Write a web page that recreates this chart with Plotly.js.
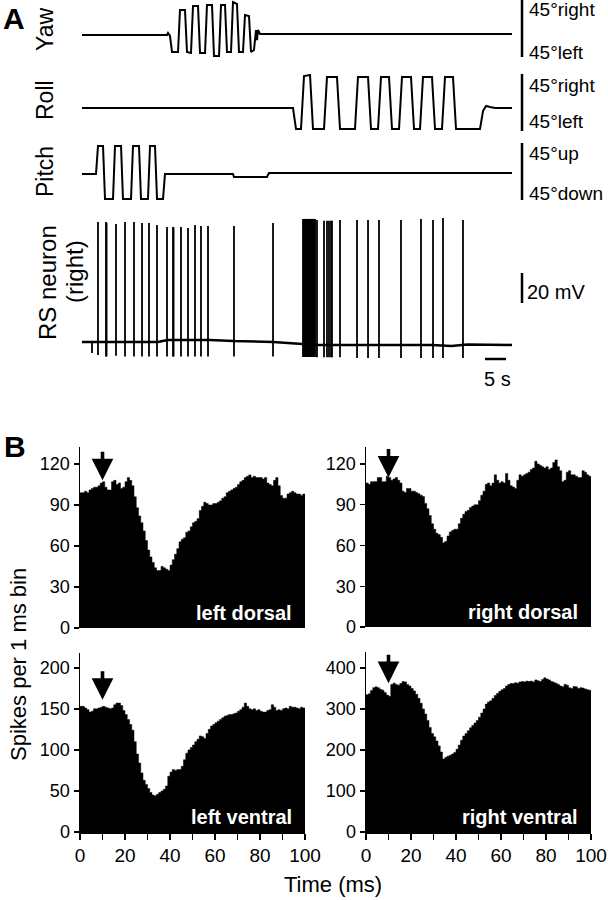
<!DOCTYPE html>
<html><head><meta charset="utf-8">
<script src="https://cdn.plot.ly/plotly-3.0.1.min.js"></script>
<style>html,body{margin:0;padding:0;background:#fff}</style>
</head><body><div id="chart" style="width:608px;height:900px"></div>
<script>
// ---------- Panel A: head position traces (time in s, angle in deg) ----------
const yawT   = [0,20.24,20.48,20.95,21.43,22.86,23.33,24.52,25.0,25.95,26.43,27.62,28.10,29.29,29.76,30.95,31.43,32.62,33.10,34.05,34.52,35.48,35.95,36.90,37.38,38.33,38.81,39.76,40.24,40.95,41.43,41.67,41.90,42.38,102.38];
const yawDeg = [-10.3,-10.3,-7.1,-11.8,-37.1,-37.1,29.2,29.2,-37.1,-38.7,35.5,35.5,-38.7,-38.7,37.1,37.1,-43.4,-43.4,37.1,37.1,-37.1,-37.1,41.8,38.7,-37.1,-37.1,21.3,19.7,-37.1,-34,-2.4,-18.2,-2.4,-8.7,-8.7];
const rollT   = [0,50.24,50.95,52.14,52.86,54.29,55.0,57.62,58.33,60.71,61.43,65.0,65.71,68.1,68.81,70.48,71.19,73.1,73.81,75.48,76.19,78.33,79.05,80.48,81.19,83.33,84.05,85.71,86.43,88.33,89.05,94.76,95.48,96.19,97.14,98.33,102.38];
const rollDeg = [-8.7,-8.7,-41.8,-41.8,41.8,43.4,-41.8,-41.8,40.3,40.3,-41.8,-41.8,40.3,40.3,-41.8,-41.8,40.3,40.3,-41.8,-41.8,40.3,40.3,-41.8,-41.8,40.3,40.3,-41.8,-41.8,40.3,40.3,-41.8,-41.8,-13.4,-5.5,-7.1,-8.7,-8.7];
const pitchT   = [0,3.33,3.81,5.0,5.48,7.38,7.86,9.29,9.76,11.67,12.14,13.57,14.05,15.71,16.19,17.38,17.86,19.29,19.76,35.95,36.19,44.05,44.52,102.38];
const pitchDeg = [-4,-4,40.3,40.3,-43.4,-43.4,40.3,40.3,-43.4,-43.4,40.3,40.3,-43.4,-43.4,40.3,40.3,-43.4,-43.4,-4,-4,-8.7,-8.7,-2.4,-2.4];

// ---------- RS neuron (time in s, membrane potential in mV) ----------
const vBaseT = [0,18.1,19.5,20.5,30.5,36,45.5,52.4,56,83.3,88,91.7,102.38];
const vBase  = [-59.3,-59.3,-58.5,-58,-58,-58.7,-59.3,-60.5,-61.3,-61.3,-62,-61,-61.3];
const spikeT = [2.38,3.81,5.71,5.85,8.10,10.24,12.38,14.29,15.95,17.86,20.24,21.67,21.8,23.57,25.24,26.90,28.33,30.0,36.19,45.48,
  52.62,52.78,52.9,53.05,53.2,53.33,53.5,53.62,53.78,53.9,54.05,54.2,54.33,54.5,54.62,54.78,54.9,55.05,55.2,55.33,55.48,
  55.95,57.62,58.33,58.81,59.29,59.52,61.43,65.48,68.10,70.71,75.95,80.71,83.57,85.95,90.71];
const spikePeak = [-59,20.7,20.7,20.0,19.3,20.7,20.7,20.0,20.0,18.7,17.3,17.3,17.0,17.3,16.7,18.7,18.0,18.0,18.0,20.0,
  22.7,22.7,22.7,22.7,22.7,22.7,22.7,22.7,22.7,22.7,22.7,22.7,22.7,22.7,22.7,22.7,22.7,22.7,22.7,22.7,22.7,
  22.0,21.5,21.5,21.5,21.5,21.5,22.0,22.0,22.0,22.0,22.0,22.7,22.0,23.3,22.0];
const spikeTrough = [-66.7,-68,-69,-69,-68.5,-69,-69,-69,-69,-69,-69,-69,-69,-69,-69,-69,-69,-69,-69,-69,
  -69.3,-69.3,-69.3,-69.3,-69.3,-69.3,-69.3,-69.3,-69.3,-69.3,-69.3,-69.3,-69.3,-69.3,-69.3,-69.3,-69.3,-69.3,-69.3,-69.3,-69.3,
  -69.5,-69.5,-69.5,-69.5,-69.5,-69.5,-69.5,-70,-70,-70,-70,-70,-70,-70,-70];

// ---------- Panel B: peri-stimulus histograms (spikes per 1 ms bin) ----------
const leftDorsal = [99,99,100,99,101,102,103,103,104,106,107,103,101,101,107,108,105,106,102,103,
  107,110,108,104,96,88,82,77,71,64,57,52,48,44,42,42,45,44,43,42,
  46,50,54,58,63,65,66,70,71,74,77,78,80,86,89,92,91,90,90,91,
  91,92,93,95,96,99,100,101,102,103,105,107,108,110,111,112,110,111,110,110,
  110,109,110,106,105,104,108,110,104,97,95,95,98,99,100,99,98,98,97,98];
const rightDorsal = [106,105,107,107,107,110,110,107,107,111,110,108,109,110,108,106,100,99,102,102,
  100,100,99,98,97,96,91,87,82,76,72,69,68,66,62,63,67,70,71,72,
  72,76,80,83,85,86,88,89,90,90,93,97,100,105,106,104,106,112,108,106,
  107,106,113,108,104,103,102,108,112,111,112,113,114,116,117,122,120,119,118,117,
  118,116,117,121,123,118,115,107,108,114,115,112,112,111,110,110,115,114,112,111];
const leftVentral = [153,153,151,149,146,147,150,150,151,152,153,152,151,150,151,155,157,157,154,148,
  143,137,131,124,110,95,84,72,63,58,53,48,45,44,46,48,50,52,56,68,
  73,76,75,76,76,80,88,96,100,103,106,110,113,117,116,114,120,125,129,131,
  133,135,137,139,141,142,143,143,144,145,147,149,152,157,153,150,149,150,148,149,
  147,146,146,148,149,155,152,148,149,148,150,151,150,153,152,152,151,150,152,151];
const rightVentral = [335,337,345,352,354,352,348,346,340,334,331,360,363,360,358,362,367,366,360,356,
  350,344,336,326,314,300,288,272,255,240,232,222,210,195,178,182,185,187,190,194,
  202,212,224,234,240,247,254,260,266,272,280,290,300,312,317,320,326,333,338,343,
  347,350,356,360,362,362,364,363,366,367,366,368,367,368,366,371,369,367,372,376,
  373,371,367,365,363,360,356,354,360,358,352,350,355,354,350,352,351,349,347,346];
const histNames = ['left dorsal','right dorsal','left ventral','right ventral'];
const stimTime = 10; // ms, arrow
const dorsalTicks = [0,30,60,90,120];
const leftVentralTicks = [0,50,100,150,200];
const rightVentralTicks = [0,100,200,300,400];
const timeTickVals = [0,10,20,30,40,50,60,70,80,90,100];
const timeTickText = ['0','','20','','40','','60','','80','','100'];

// ---------- helpers ----------
const W = 608, H = 900;
const px = v => v / W;
const py = v => 1 - v / H;
const FONT = 'Liberation Sans, Arial, Helvetica, sans-serif';

const traces = [];
traces.push({x: yawT, y: yawDeg, xaxis: 'x', yaxis: 'y', mode: 'lines', line: {color: '#000', width: 2}, hoverinfo: 'skip'});
traces.push({x: rollT, y: rollDeg, xaxis: 'x', yaxis: 'y2', mode: 'lines', line: {color: '#000', width: 2}, hoverinfo: 'skip'});
traces.push({x: pitchT, y: pitchDeg, xaxis: 'x', yaxis: 'y3', mode: 'lines', line: {color: '#000', width: 2}, hoverinfo: 'skip'});
traces.push({x: vBaseT, y: vBase, xaxis: 'x', yaxis: 'y4', mode: 'lines', line: {color: '#000', width: 2.6}, hoverinfo: 'skip'});
const sx = [], sy = [];
spikeT.forEach((t, i) => { sx.push(t, t, null); sy.push(spikeTrough[i], spikePeak[i], null); });
traces.push({x: sx, y: sy, xaxis: 'x', yaxis: 'y4', mode: 'lines', line: {color: '#000', width: 1.8}, hoverinfo: 'skip', connectgaps: false});

const hists = [leftDorsal, rightDorsal, leftVentral, rightVentral];
hists.forEach((vals, k) => {
  const xs = vals.map((v, i) => i).concat([vals.length]);
  const ys = vals.concat([vals[vals.length - 1]]);
  traces.push({x: xs, y: ys, xaxis: 'x' + (k + 5), yaxis: 'y' + (k + 5), mode: 'lines',
    line: {shape: 'hv', color: '#000', width: 0.5}, fill: 'tozeroy', fillcolor: '#000', hoverinfo: 'skip'});
});

const hidden = {visible: false, showgrid: false, zeroline: false, fixedrange: true};
const layout = {
  width: W, height: H, margin: {l: 0, r: 0, t: 0, b: 0}, showlegend: false,
  paper_bgcolor: '#fff', plot_bgcolor: 'rgba(0,0,0,0)',
  font: {family: FONT, color: '#000', size: 18},
  xaxis: Object.assign({}, hidden, {domain: [px(82), px(512)], range: [0, 102.38], anchor: 'y4'}),
  yaxis: Object.assign({}, hidden, {domain: [py(57), py(0)], range: [-45, 45]}),
  yaxis2: Object.assign({}, hidden, {domain: [py(131), py(74)], range: [-45, 45]}),
  yaxis3: Object.assign({}, hidden, {domain: [py(200), py(143)], range: [-45, 45]}),
  yaxis4: Object.assign({}, hidden, {domain: [py(370), py(210)], range: [-78, 28.67]}),
  annotations: [], shapes: []
};

const histCfg = [
  {x0: 80, x1: 305, yt: 447, yb: 628, top: 132.4, ticks: dorsalTicks, bottom: false},
  {x0: 366, x1: 591, yt: 447, yb: 627, top: 132.5, ticks: dorsalTicks, bottom: false},
  {x0: 80, x1: 305, yt: 653, yb: 832, top: 218, ticks: leftVentralTicks, bottom: true},
  {x0: 366, x1: 591, yt: 652, yb: 832, top: 439, ticks: rightVentralTicks, bottom: true}
];
histCfg.forEach((c, k) => {
  const n = k + 5;
  layout['xaxis' + n] = {domain: [px(c.x0), px(c.x1)], range: [0, 100], anchor: 'y' + n,
    showgrid: false, zeroline: false, fixedrange: true,
    showline: c.bottom, linecolor: '#000', linewidth: 1.5,
    ticks: c.bottom ? 'outside' : '', ticklen: 6, tickwidth: 1.5, tickcolor: '#000',
    tickmode: 'array', tickvals: timeTickVals, ticktext: timeTickText,
    showticklabels: c.bottom, tickfont: {size: 19}};
  layout['yaxis' + n] = {domain: [py(c.yb), py(c.yt)], range: [0, c.top], anchor: 'x' + n,
    showgrid: false, zeroline: false, fixedrange: true,
    showline: true, linecolor: '#000', linewidth: 1.5,
    ticks: 'outside', ticklen: 5, tickwidth: 1.5, tickcolor: '#000',
    tickmode: 'array', tickvals: c.ticks, tickfont: {size: 18}};
  // name label
  layout.annotations.push({xref: 'paper', yref: 'paper', x: px(c.x1 - 11), y: py(c.yb - 15),
    xanchor: 'right', yanchor: 'middle', showarrow: false, text: '<b>' + histNames[k] + '</b>',
    font: {size: 20, color: '#fff'}});
});
// stimulus arrows
const arrowTip = [108, 110, 161, 363];
arrowTip.forEach((v, k) => {
  layout.annotations.push({xref: 'x' + (k + 5), yref: 'y' + (k + 5), x: stimTime, y: v, ax: 0, ay: -30,
    text: '', showarrow: true, arrowhead: 2, arrowsize: 1.2, arrowwidth: 3.6, arrowcolor: '#000', standoff: 0});
});

function txt(x, y, t, opts) {
  layout.annotations.push(Object.assign({xref: 'paper', yref: 'paper', x: px(x), y: py(y), text: t,
    showarrow: false, xanchor: 'center', yanchor: 'middle', font: {size: 19}}, opts || {}));
}
// panel letters
txt(14, 0, '<b>A</b>', {font: {size: 30}, yanchor: 'top'});
txt(15, 447, '<b>B</b>', {font: {size: 30}});
// panel A row labels
txt(45, 30, 'Yaw', {textangle: -90, font: {size: 23}});
txt(45, 100, 'Roll', {textangle: -90, font: {size: 23}});
txt(45, 172, 'Pitch', {textangle: -90, font: {size: 23}});
txt(47, 283, 'RS neuron', {textangle: -90, font: {size: 24}});
txt(75, 272, '(right)', {textangle: -90, font: {size: 24}});
// scale labels
txt(527, 10, '45°right', {xanchor: 'left'});
txt(527, 53, '45°left', {xanchor: 'left'});
txt(527, 85, '45°right', {xanchor: 'left'});
txt(527, 121, '45°left', {xanchor: 'left'});
txt(527, 153, '45°up', {xanchor: 'left'});
txt(527, 193, '45°down', {xanchor: 'left'});
txt(525, 292, '20 mV', {xanchor: 'left', font: {size: 20}});
txt(497, 379, '5 s', {font: {size: 20}});
// panel B axis titles
txt(18, 665, 'Spikes per 1 ms bin', {textangle: -90, font: {size: 22}});
txt(333, 884, 'Time (ms)', {font: {size: 22}});

// scale bars
const bar = (x0, y0, x1, y1) => layout.shapes.push({type: 'line', xref: 'paper', yref: 'paper',
  x0: px(x0), y0: py(y0), x1: px(x1), y1: py(y1), line: {color: '#000', width: 2.5}});
bar(522, 0, 522, 57);
bar(522, 74, 522, 131);
bar(522, 143, 522, 200);
bar(522, 273, 522, 303);
bar(485, 359, 506, 359);

Plotly.newPlot('chart', traces, layout, {staticPlot: true, displayModeBar: false});
</script></body></html>
